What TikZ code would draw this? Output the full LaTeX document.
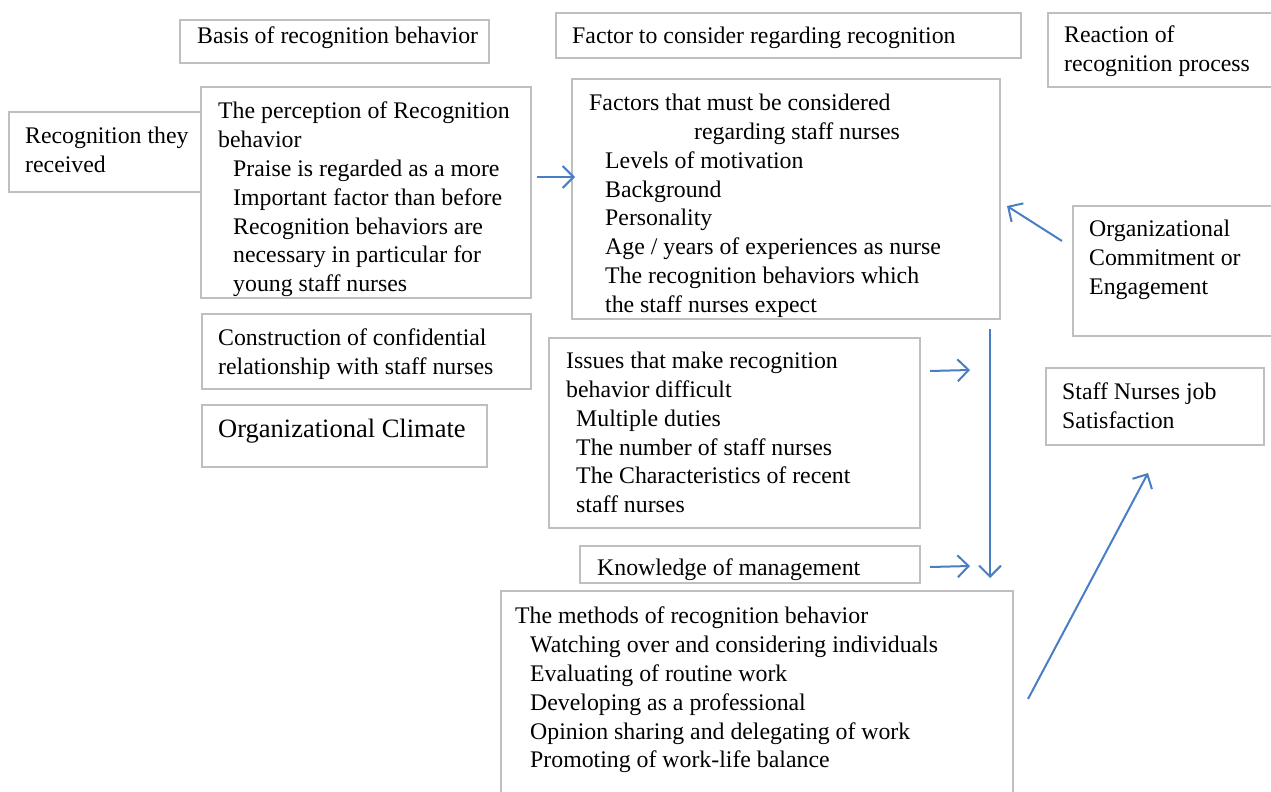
\documentclass[tikz,border=0pt]{standalone}
\usepackage{fontspec}
\setmainfont{Liberation Serif}
\usetikzlibrary{arrows.meta}
\definecolor{boxgray}{HTML}{BFBFBF}
\definecolor{arrblue}{HTML}{4A7EC4}

\begin{document}
\begin{tikzpicture}[x=1pt,y=-1pt,
  box/.style={draw=boxgray,line width=2pt,anchor=north west,inner sep=0pt},
  txt/.style={anchor=north west,inner sep=0pt,align=left,font=\fontsize{23.8}{28.8}\selectfont},
  arr/.style={draw=arrblue,line width=2pt,-{Straight Barb[length=11pt,width=22pt]}}]
        \useasboundingbox (0,0) rectangle (1271,792);

        \node[box,minimum width=309pt,minimum height=43pt] (basis) at (179,19) {};
        \node[box,minimum width=465pt,minimum height=45pt] (factor) at (555,12) {};
        \node[box,minimum width=260pt,minimum height=74pt] (react) at (1047,12) {};
        \node[box,minimum width=192pt,minimum height=80pt] (recv) at (8,111) {};
        \node[box,minimum width=330pt,minimum height=211pt] (percep) at (200,86) {};
        \node[box,minimum width=428pt,minimum height=240pt] (facs) at (571,78) {};
        \node[box,minimum width=240pt,minimum height=130pt] (commit) at (1072,205) {};
        \node[box,minimum width=329pt,minimum height=75pt] (constr) at (201,313) {};
        \node[box,minimum width=285pt,minimum height=62pt] (climate) at (201,404) {};
        \node[box,minimum width=371pt,minimum height=190pt] (issues) at (548,337) {};
        \node[box,minimum width=218pt,minimum height=77pt] (satis) at (1045,367) {};
        \node[box,minimum width=340pt,minimum height=37pt] (know) at (579,545) {};
        \node[box,minimum width=512pt,minimum height=210pt] (methods) at (500,590) {};

        \node[txt] (basist) at (197,27) {Basis of recognition behavior};
        \node[txt] (factort) at (572,27) {Factor to consider regarding recognition};
        \node[txt] (reactt) at (1064,26) {Reaction of\\recognition process};
        \node[txt] (recvt) at (25,127) {Recognition they\\received};
        \node[txt] (percept) at (218,102) {The perception of Recognition\\behavior\\
          \hspace*{15pt}Praise is regarded as a more\\
          \hspace*{15pt}Important factor than before\\
          \hspace*{15pt}Recognition behaviors are\\
          \hspace*{15pt}necessary in particular for\\
          \hspace*{15pt}young staff nurses};
        \node[txt] (facst) at (589,94) {Factors that must be considered\\
          \hspace*{105pt}regarding staff nurses\\
          \hspace*{16pt}Levels of motivation\\
          \hspace*{16pt}Background\\
          \hspace*{16pt}Personality\\
          \hspace*{16pt}Age / years of experiences as nurse\\
          \hspace*{16pt}The recognition behaviors which\\
          \hspace*{16pt}the staff nurses expect};
        \node[txt] (committ) at (1089,220) {Organizational\\Commitment or\\Engagement};
        \node[txt] (constrt) at (218,329) {Construction of confidential\\relationship with staff nurses};
        \node[txt,font=\fontsize{26.5}{32}\selectfont] (climatet) at (218,419) {Organizational Climate};
        \node[txt] (issuest) at (566,352) {Issues that make recognition\\behavior difficult\\
          \hspace*{10pt}Multiple duties\\
          \hspace*{10pt}The number of staff nurses\\
          \hspace*{10pt}The Characteristics of recent\\
          \hspace*{10pt}staff nurses};
        \node[txt] (satist) at (1062,383) {Staff Nurses job\\Satisfaction};
        \node[txt] (knowt) at (597,559) {Knowledge of management};
        \node[txt] (methodst) at (515,607) {The methods of recognition behavior\\
          \hspace*{15pt}Watching over and considering individuals\\
          \hspace*{15pt}Evaluating of routine work\\
          \hspace*{15pt}Developing as a professional\\
          \hspace*{15pt}Opinion sharing and delegating of work\\
          \hspace*{15pt}Promoting of work-life balance};

        \coordinate (issuesend) at (970,370);
        \coordinate (knowend) at (970,566);

        \draw[arr] ([shift={(5pt,15.5pt)}]percep.east) -- ([shift={(4pt,22pt)}]facs.west);
        \draw[arr] ([shift={(-10pt,30pt)}]commit.west) -- ([shift={(6pt,-7pt)}]facs.east);
        \draw[arr] ([shift={(9pt,62pt)}]issues.east) -- (issuesend);
        \draw[arr] ([shift={(9pt,-2.5pt)}]know.east) -- (knowend);
        \draw[arr] ([shift={(-11pt,-9pt)}]facs.south east) -- ([shift={(-24pt,12pt)}]methods.north east);
        \draw[arr] ([shift={(14pt,-3pt)}]methods.east) -- ([shift={(-7pt,-27pt)}]satis.south);
      \end{tikzpicture}
\end{document}
